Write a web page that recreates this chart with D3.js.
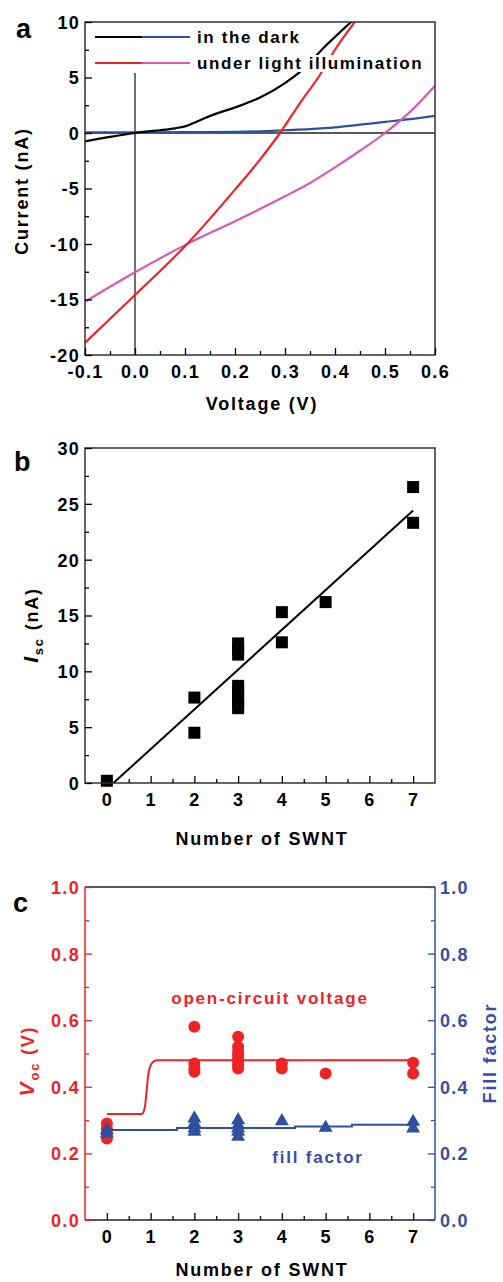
<!DOCTYPE html>
<html>
<head>
<meta charset="utf-8">
<script src="https://cdn.jsdelivr.net/npm/d3@7"></script>
<style>
  body { margin: 0; background: #fff; }
  svg { display: block; font-family: "Liberation Sans", Arial, sans-serif; font-weight: bold; }
</style>
</head>
<body>
<svg id="chart" width="503" height="1282"></svg>
<script>
// ---- panel a: I-V curves ----
var darkBlackV = [-0.1, -0.05, 0, 0.02, 0.05, 0.08, 0.1, 0.12, 0.14, 0.16, 0.2, 0.25, 0.3, 0.33, 0.38, 0.437];
var darkBlackI = [-0.75, -0.35, 0, 0.12, 0.25, 0.42, 0.6, 0.95, 1.35, 1.7, 2.3, 3.2, 4.5, 5.5, 7.8, 10.2];
var darkBlueV = [-0.1, 0, 0.1, 0.2, 0.25, 0.3, 0.35, 0.4, 0.45, 0.5, 0.55, 0.6];
var darkBlueI = [0.05, 0.05, 0.07, 0.1, 0.15, 0.25, 0.35, 0.5, 0.75, 1.0, 1.25, 1.55];
var lightRedV = [-0.1, 0, 0.1, 0.2, 0.25, 0.29, 0.33, 0.37, 0.4, 0.443];
var lightRedI = [-18.9, -14.6, -10.2, -5.1, -2.4, 0, 2.7, 5.25, 7.5, 10.2];
var lightPinkV = [-0.1, 0, 0.1, 0.2, 0.3, 0.35, 0.4, 0.45, 0.5, 0.55, 0.6];
var lightPinkI = [-15.2, -12.55, -10.1, -7.95, -5.7, -4.5, -3.1, -1.6, 0, 1.9, 4.25];
var legendLabels = ["in the dark", "under light illumination"];

// ---- panel b: Isc vs number of SWNT ----
var iscN = [0, 2, 2, 3, 3, 3, 3, 3, 3, 3, 3, 4, 4, 5, 7, 7];
var iscVal = [0.2, 7.65, 4.5, 12.5, 12.0, 11.5, 8.7, 8.2, 7.6, 7.1, 6.7, 15.3, 12.6, 16.2, 26.5, 23.3];
var iscFitN = [0.15, 7];
var iscFitVal = [0, 24.4];

// ---- panel c: Voc and fill factor ----
var vocN = [0, 0, 0, 0, 2, 2, 2, 2, 3, 3, 3, 3, 3, 3, 3, 3, 4, 4, 5, 7, 7];
var vocVal = [0.29, 0.275, 0.26, 0.245, 0.58, 0.47, 0.455, 0.445, 0.55, 0.52, 0.505, 0.495, 0.485, 0.475, 0.465, 0.455, 0.47, 0.455, 0.44, 0.472, 0.44];
var vocFitN = [0, 0.8, 0.87, 0.91, 0.95, 1.03, 1.14, 7];
var vocFitVal = [0.318, 0.318, 0.34, 0.39, 0.44, 0.471, 0.48, 0.48];
var ffN = [0, 0, 2, 2, 2, 2, 3, 3, 3, 3, 3, 4, 5, 7, 7];
var ffVal = [0.27, 0.26, 0.305, 0.29, 0.275, 0.265, 0.30, 0.285, 0.275, 0.265, 0.25, 0.297, 0.277, 0.295, 0.275];
var ffFitN = [0, 1.6, 1.6, 4.3, 4.3, 5.6, 5.6, 7];
var ffFitVal = [0.27, 0.27, 0.276, 0.276, 0.281, 0.281, 0.286, 0.286];

var RED = "#ee2326", PINK = "#d95ab2", BLUE = "#2f4f9f", TXTBLUE = "#3a4ea0";
var L = 85, R = 435;
var svg = d3.select("#chart");

function zip(a, b) { return a.map(function(v, i){ return [v, b[i]]; }); }

// ticks pointing into the plot, major + minor
function yAxis(g, y, side, major, minor, fmt, color) {
    var mk = side == "left" ? d3.axisLeft : d3.axisRight;
    var gm = g.append("g").attr("transform", "translate(" + (side == "left" ? L : R) + ",0)")
        .call(mk(y).tickValues(minor).tickSize(-4).tickFormat(""));
    gm.select(".domain").remove();
    var ga = g.append("g").attr("transform", "translate(" + (side == "left" ? L : R) + ",0)")
        .call(mk(y).tickValues(major).tickSize(-7).tickPadding(side == "left" ? 5 : 5).tickFormat(fmt));
    ga.select(".domain").remove();
    g.selectAll("line").attr("stroke", color).attr("stroke-width", 1.3);
    ga.selectAll("text").attr("fill", color).style("font-size", "18px").style("letter-spacing", "1.3px")
        .attr("dy", "0.36em").attr("font-family", null);
}
function xAxis(g, x, y0, major, minor, fmt) {
    var gm = g.append("g").attr("transform", "translate(0," + y0 + ")")
        .call(d3.axisBottom(x).tickValues(minor).tickSize(-4).tickFormat(""));
    gm.select(".domain").remove();
    var ga = g.append("g").attr("transform", "translate(0," + y0 + ")")
        .call(d3.axisBottom(x).tickValues(major).tickSize(-7).tickPadding(10).tickFormat(fmt));
    ga.select(".domain").remove();
    g.selectAll("line").attr("stroke", "#000").attr("stroke-width", 1.3);
    ga.selectAll("text").attr("fill", "#000").style("font-size", "18px").style("letter-spacing", "1.3px")
        .attr("dy", "0.7em").attr("font-family", null);
}
function range(a, b, s) { var r = []; for (var v = a; v <= b + 1e-9; v += s) r.push(+v.toFixed(3)); return r; }
function label(txt, x, y, size, color, rot) {
    var t = svg.append("text").attr("x", x).attr("y", y).attr("text-anchor", "middle")
        .attr("fill", color || "#000").style("font-size", size + "px").style("letter-spacing", "1.8px").text(txt);
    if (rot) t.attr("transform", "rotate(" + rot + "," + x + "," + y + ")");
    return t;
}

// ================= panel a =================
var xa = d3.scaleLinear().domain([-0.1, 0.6]).range([L, R]);
var ya = d3.scaleLinear().domain([-20, 10]).range([355, 22]);
var ga = svg.append("g");
svg.append("clipPath").attr("id", "clipA").append("rect")
    .attr("x", L).attr("y", ya(10)).attr("width", R - L).attr("height", ya(-20) - ya(10));
// zero lines
ga.append("line").attr("x1", L).attr("x2", R).attr("y1", ya(0)).attr("y2", ya(0)).attr("stroke", "#222").attr("stroke-width", 1.3);
ga.append("line").attr("x1", xa(0)).attr("x2", xa(0)).attr("y1", 73).attr("y2", ya(-20)).attr("stroke", "#222").attr("stroke-width", 1.3);
var lineA = d3.line().x(function(d){ return xa(d[0]); }).y(function(d){ return ya(d[1]); }).curve(d3.curveMonotoneX);
var curvesA = ga.append("g").attr("clip-path", "url(#clipA)");
[[darkBlueV, darkBlueI, BLUE], [lightPinkV, lightPinkI, PINK], [lightRedV, lightRedI, RED], [darkBlackV, darkBlackI, "#000"]]
.forEach(function(c){
    curvesA.append("path").datum(zip(c[0], c[1])).attr("d", lineA)
        .attr("fill", "none").attr("stroke", c[2]).attr("stroke-width", 2.2);
});
// legend
var legY = [37, 63], legCols = [["#000", BLUE], [RED, PINK]];
legendLabels.forEach(function(t, i){
    ga.append("line").attr("x1", 95).attr("x2", 142).attr("y1", legY[i]).attr("y2", legY[i]).attr("stroke", legCols[i][0]).attr("stroke-width", 2.2);
    ga.append("line").attr("x1", 142).attr("x2", 190).attr("y1", legY[i]).attr("y2", legY[i]).attr("stroke", legCols[i][1]).attr("stroke-width", 2.2);
    var bg = ga.append("rect").attr("fill", "#fff");
    var tx = ga.append("text").attr("x", 197).attr("y", legY[i] + 6).style("font-size", "17px").style("letter-spacing", "1.6px").text(t);
    var bb = tx.node().getBBox();
    bg.attr("x", bb.x - 2).attr("y", bb.y + 1).attr("width", bb.width + 2).attr("height", bb.height - 2);
});
// frame
ga.append("rect").attr("x", L).attr("y", ya(10)).attr("width", R - L).attr("height", ya(-20) - ya(10))
    .attr("fill", "none").attr("stroke", "#333").attr("stroke-width", 1.5);
yAxis(ga.append("g"), ya, "left", range(-20, 10, 5), range(-17.5, 7.5, 5), function(v){ return "" + v; }, "#000");
xAxis(ga.append("g"), xa, 355, range(-0.1, 0.6, 0.1), range(-0.05, 0.55, 0.1), function(v){ return v.toFixed(1); });
label("Current (nA)", 28, 191, 18, "#000", -90);
label("Voltage (V)", 262, 410, 18);
svg.append("text").attr("x", 16).attr("y", 38).style("font-size", "27px").text("a");

// ================= panel b =================
var xb = d3.scaleLinear().domain([-0.5, 7.5]).range([L, R]);
var yb = d3.scaleLinear().domain([0, 30]).range([783, 448]);
var gb = svg.append("g");
gb.append("path").datum(zip(iscFitN, iscFitVal))
    .attr("d", d3.line().x(function(d){ return xb(d[0]); }).y(function(d){ return yb(d[1]); }))
    .attr("stroke", "#000").attr("stroke-width", 2).attr("fill", "none");
gb.selectAll("rect.pt").data(zip(iscN, iscVal)).enter().append("rect").attr("class", "pt")
    .attr("x", function(d){ return xb(d[0]) - 6; }).attr("y", function(d){ return yb(d[1]) - 6; })
    .attr("width", 12).attr("height", 12).attr("fill", "#000");
gb.append("rect").attr("x", L).attr("y", yb(30)).attr("width", R - L).attr("height", yb(0) - yb(30))
    .attr("fill", "none").attr("stroke", "#333").attr("stroke-width", 1.5);
yAxis(gb.append("g"), yb, "left", range(0, 30, 5), range(2.5, 27.5, 5), function(v){ return "" + v; }, "#000");
xAxis(gb.append("g"), xb, 783, range(0, 7, 1), range(0.5, 6.5, 1), function(v){ return "" + v; });
var iscLab = svg.append("text").attr("transform", "translate(38,625) rotate(-90)").attr("text-anchor", "middle")
    .style("font-size", "18px").style("letter-spacing", "1.8px");
iscLab.append("tspan").style("font-style", "italic").style("font-size", "21px").text("I");
iscLab.append("tspan").attr("dy", 5).style("font-size", "13px").text("sc");
iscLab.append("tspan").attr("dy", -5).text(" (nA)");
label("Number of SWNT", 262, 845, 18);
svg.append("text").attr("x", 14).attr("y", 471).style("font-size", "27px").text("b");

// ================= panel c =================
var yc = d3.scaleLinear().domain([0, 1]).range([1220, 887]);
var gc = svg.append("g");
var lineC = d3.line().x(function(d){ return xb(d[0]); }).y(function(d){ return yc(d[1]); });
gc.append("path").datum(zip(vocFitN, vocFitVal)).attr("d", lineC.curve(d3.curveMonotoneX))
    .attr("stroke", RED).attr("stroke-width", 2).attr("fill", "none");
gc.selectAll("circle").data(zip(vocN, vocVal)).enter().append("circle")
    .attr("cx", function(d){ return xb(d[0]); }).attr("cy", function(d){ return yc(d[1]); })
    .attr("r", 6).attr("fill", RED);
gc.append("path").datum(zip(ffFitN, ffFitVal)).attr("d", d3.line().x(function(d){ return xb(d[0]); }).y(function(d){ return yc(d[1]); }))
    .attr("stroke", BLUE).attr("stroke-width", 2).attr("fill", "none");
gc.selectAll("path.tri").data(zip(ffN, ffVal)).enter().append("path").attr("class", "tri")
    .attr("transform", function(d){ return "translate(" + xb(d[0]) + "," + yc(d[1]) + ")"; })
    .attr("d", d3.symbol().type(d3.symbolTriangle).size(85)).attr("fill", BLUE);
// frame: black top/bottom, red left, blue right
gc.append("line").attr("x1", L).attr("x2", R).attr("y1", yc(1)).attr("y2", yc(1)).attr("stroke", "#222").attr("stroke-width", 1.5);
gc.append("line").attr("x1", L).attr("x2", R).attr("y1", yc(0)).attr("y2", yc(0)).attr("stroke", "#222").attr("stroke-width", 1.5);
gc.append("line").attr("x1", L).attr("x2", L).attr("y1", yc(1)).attr("y2", yc(0)).attr("stroke", RED).attr("stroke-width", 1.5);
gc.append("line").attr("x1", R).attr("x2", R).attr("y1", yc(1)).attr("y2", yc(0)).attr("stroke", BLUE).attr("stroke-width", 1.5);
yAxis(gc.append("g"), yc, "left", range(0, 1, 0.2), range(0.1, 0.9, 0.2), function(v){ return v.toFixed(1); }, RED);
yAxis(gc.append("g"), yc, "right", range(0, 1, 0.2), range(0.1, 0.9, 0.2), function(v){ return v.toFixed(1); }, TXTBLUE);
xAxis(gc.append("g"), xb, 1220, range(0, 7, 1), range(0.5, 6.5, 1), function(v){ return "" + v; });
var vocLab = svg.append("text").attr("transform", "translate(34,1061) rotate(-90)").attr("text-anchor", "middle")
    .attr("fill", RED).style("font-size", "18px").style("letter-spacing", "1.8px");
vocLab.append("tspan").style("font-style", "italic").style("font-size", "21px").text("V");
vocLab.append("tspan").attr("dy", 5).style("font-size", "13px").text("oc");
vocLab.append("tspan").attr("dy", -5).text(" (V)");
label("Fill factor", 496, 1053, 18, TXTBLUE, -90);
label("open-circuit voltage", 270, 1004, 17, RED);
label("fill factor", 318, 1163, 17, TXTBLUE);
label("Number of SWNT", 262, 1276, 18);
svg.append("text").attr("x", 13).attr("y", 912).style("font-size", "27px").text("c");
</script>
</body>
</html>
